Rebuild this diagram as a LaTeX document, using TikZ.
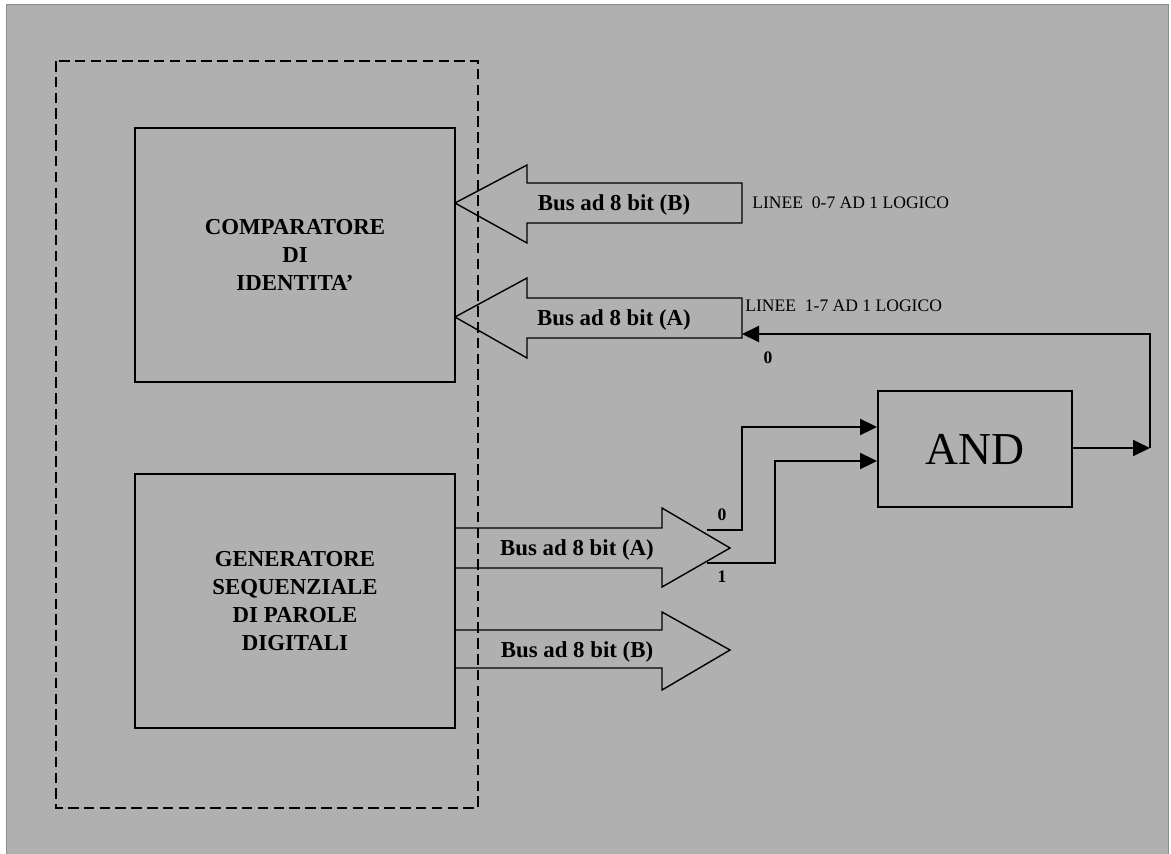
\documentclass[tikz,border=0pt]{standalone}
\usepackage{fontspec}
\setmainfont{Liberation Serif}
\usetikzlibrary{arrows.meta}
\begin{document}
\begin{tikzpicture}[x=0.02cm,y=-0.02cm,
        blok/.style={draw,line width=1.1pt,minimum width=6.4cm,minimum height=5.08cm,align=center,
            font=\fontsize{13}{16}\selectfont\bfseries},
        bus/.style={draw,line width=0.8pt},
        buslabel/.style={font=\fontsize{13}{16}\selectfont\bfseries},
        wire/.style={draw,line width=1.1pt},
        tip/.style={-{Triangle[length=0.34cm,width=0.32cm]}},
        small/.style={font=\fontsize{10}{12}\selectfont,anchor=west,inner sep=0pt},
        bitlabel/.style={font=\fontsize{10}{12}\selectfont\bfseries,inner sep=0pt}]
        \useasboundingbox (0,0) rectangle (1171,853);
        %% Sheet
        \fill[white] (0,0) rectangle (1171,853);
        \filldraw[fill=black!31,draw=black!45,line width=0.5pt] (6,4) rectangle (1168,856);
        \draw[dashed,dash pattern=on 6pt off 3pt,line width=0.7pt] (56,61) rectangle (478,808);
        %% Blocks
        \node[blok] (comp) at (295,255) {COMPARATORE\\DI\\IDENTITA'};
        \node[blok] (gen) at (295,601) {GENERATORE\\SEQUENZIALE\\DI PAROLE\\DIGITALI};
        \node[draw,line width=1.1pt,minimum width=3.88cm,minimum height=2.32cm,
            font=\fontsize{26}{30}\selectfont] (and) at (975,449) {AND};
        %% Buses into the comparator
        \draw[bus] (455,203) -- (527,165) -- (527,183) -- (742,183) -- (742,223) -- (527,223) -- (527,243) -- cycle;
        \draw[bus] (455,317) -- (527,278) -- (527,298) -- (742,298) -- (742,338) -- (527,338) -- (527,358) -- cycle;
        \node[buslabel] (busBin) at (614,205) {Bus ad 8 bit (B)};
        \node[buslabel] (busAin) at (614,320) {Bus ad 8 bit (A)};
        \coordinate (busAend) at (742,334);
        \node[small] (lineB) at (752,203) {LINEE\ \ 0-7 AD 1 LOGICO};
        \node[small] (lineA) at (745,306) {LINEE\ \ 1-7 AD 1 LOGICO};
        %% Buses out of the generator
        \draw[bus] (455,528) -- (662,528) -- (662,508) -- (730,548) -- (662,587) -- (662,568) -- (455,568) -- cycle;
        \draw[bus] (455,630) -- (662,630) -- (662,612) -- (730,650) -- (662,690) -- (662,668) -- (455,668) -- cycle;
        \node[buslabel] (busAout) at (577,550) {Bus ad 8 bit (A)};
        \node[buslabel] (busBout) at (577,652) {Bus ad 8 bit (B)};
        %% Lines 0 and 1 to the AND gate
        \coordinate (bit0) at (707,530);
        \coordinate (bit1) at (707,563);
        \draw[wire,tip] (bit0) -- (742,530) |- (and.west |- 0,427);
        \draw[wire,tip] (bit1) -- (775,563) |- (and.west |- 0,461);
        \node[bitlabel] (lab0) at (722,515) {0};
        \node[bitlabel] (lab1) at (722,577) {1};
        %% Feedback to line 0
        \coordinate (fb) at (1150,448);
        \draw[wire,tip] (and.east |- fb) -- (fb);
        \draw[wire,tip] (fb) |- (busAend);
        \node[bitlabel] (labfb) at (768,358) {0};
\end{tikzpicture}
\end{document}
